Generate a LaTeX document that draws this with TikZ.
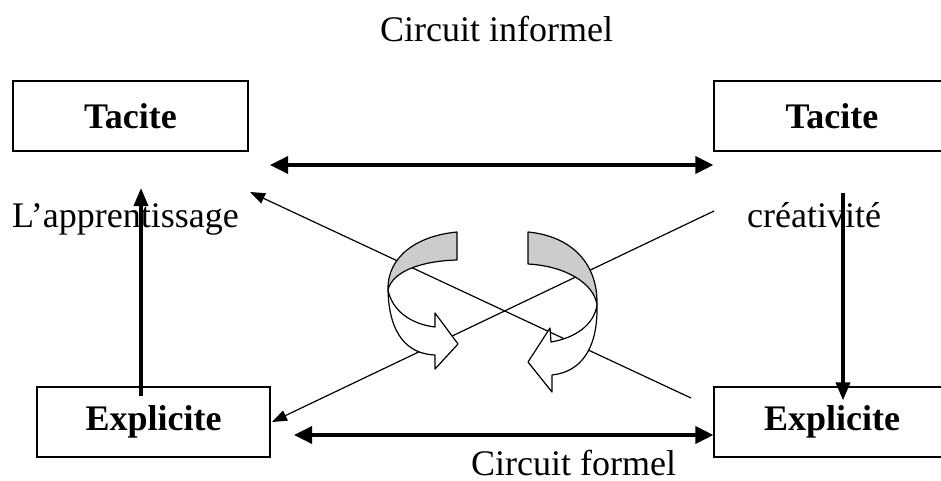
\documentclass[tikz,border=0pt]{standalone}
\usepackage{fontspec}
\setmainfont{Liberation Serif}
\usetikzlibrary{arrows.meta}

\begin{document}
\begin{tikzpicture}[x=1pt,y=-1pt]
	\tikzstyle{savoir}=[draw,line width=1.2pt,minimum width=235pt,minimum height=70pt,inner sep=0pt,font=\fontsize{36}{43}\selectfont\bfseries]
	\tikzstyle{etiquette}=[inner sep=0pt,anchor=base west,font=\fontsize{36}{43}\selectfont]
	\tikzstyle{gros}=[line width=3.6pt,-{Triangle[length=18pt,width=17pt]}]
	\tikzstyle{fin}=[line width=1.2pt,-{Triangle[length=15pt,width=11pt]}]
	\tikzstyle{ruban}=[draw,line width=1.2pt,line join=round]

	\useasboundingbox (0,0) rectangle (941,481);

	\node (tacG) [savoir] at (130.5,116) {Tacite};
	\node (tacD) [savoir, minimum width=236pt] at (832,116) {Tacite};
	\node (expG) [savoir, minimum width=233pt] at (153.5,422) {Explicite};
	\node (expD) [savoir, minimum width=236pt] at (832,422) {Explicite};

	\node (informel) [etiquette] at (380,42) {Circuit informel};
	\node (formel) [etiquette] at (471,475) {Circuit formel};
	\node (apprent) [etiquette] at (12,227) {L’apprentissage};
	\node (creat) [etiquette] at (747,227) {créativité};

	% bouts des fleches
	\coordinate (hautG) at (270,165);
	\coordinate (basG) at (294,435);
	\coordinate (montee) at (141,188);
	\coordinate (descente) at (843,193);
	\coordinate (depart1) at (691,398);
	\coordinate (but1) at (250,192);
	\coordinate (depart2) at (714,211);
	\coordinate (but2) at (272,422);

	\draw [gros, {Triangle[length=18pt,width=17pt]}-{Triangle[length=18pt,width=17pt]}] (hautG) -- (hautG -| tacD.west);
	\draw [gros, {Triangle[length=18pt,width=17pt]}-{Triangle[length=18pt,width=17pt]}] (basG) -- (basG -| expD.west);
	\draw [gros, -{Triangle[length=18pt,width=14pt]}] (montee |- expG.north) ++(0,10) -- (montee);
	\draw [gros, -{Triangle[length=18pt,width=14pt]}] (descente) -- ([yshift=-14pt]descente |- expD.north);
	\draw [fin] (depart1) -- (but1);
	\draw [fin] (depart2) -- (but2);

	% ruban de gauche
	\draw [ruban, fill=gray!40] (457,232) .. controls (415,236) and (387,258) .. (388,290)
		.. controls (392,272) and (420,261) .. (457,260) -- cycle;
	\draw [ruban, fill=white] (388,290) .. controls (389,335) and (408,354) .. (435,355)
		-- (435,369) -- (458,344) -- (435,313) -- (435,327)
		.. controls (410,324) and (392,310) .. (388,290) -- cycle;

	% ruban de droite
	\draw [ruban, fill=gray!40] (528,232) .. controls (570,236) and (598,262) .. (597,305)
		.. controls (594,283) and (565,266) .. (528,264) -- cycle;
	\draw [ruban, fill=white] (597,305) .. controls (598,350) and (580,372) .. (552,375)
		-- (552,392) -- (528,362) -- (550,328) -- (551,342)
		.. controls (575,338) and (594,325) .. (597,305) -- cycle;
\end{tikzpicture}
\end{document}
